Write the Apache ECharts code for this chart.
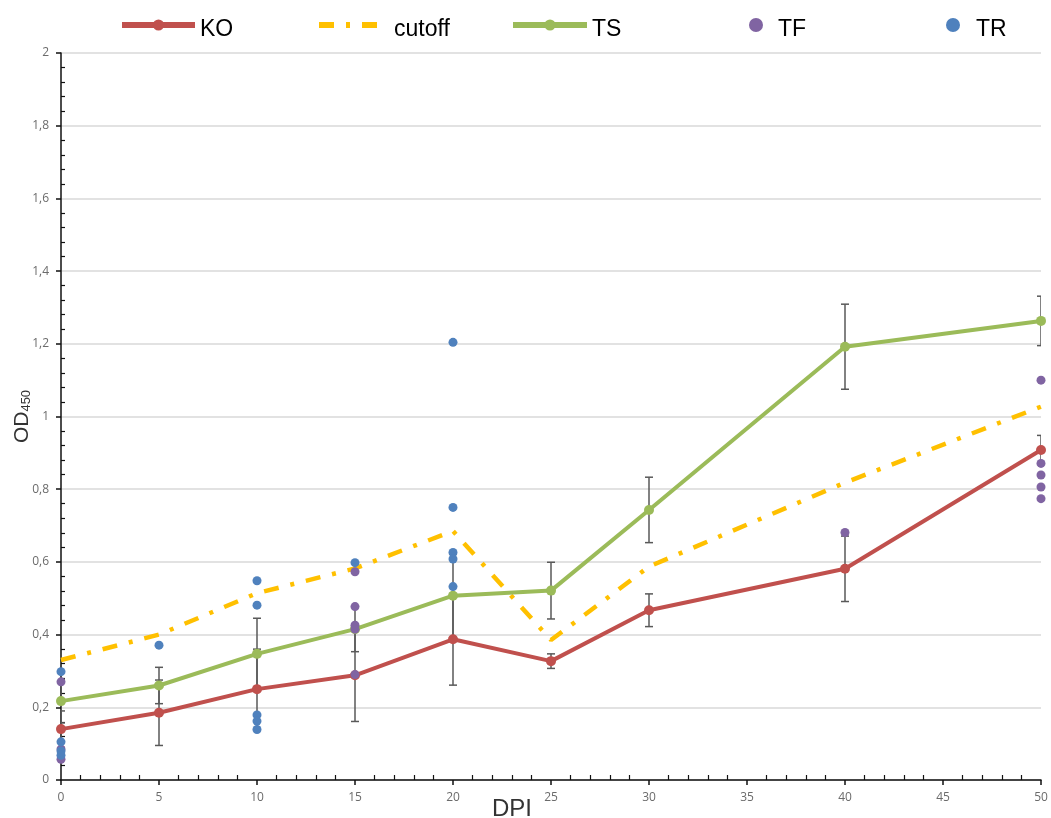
<!DOCTYPE html>
<html>
<head>
<meta charset="utf-8">
<script src="https://cdn.jsdelivr.net/npm/echarts@6/dist/echarts.min.js"></script>
<style>
  html, body { margin: 0; padding: 0; background: #ffffff; }
  #chart { width: 1051px; height: 818px; }
</style>
</head>
<body>
<div id="chart"></div>
<script>
// Days post infection (x positions of the group means)
const dpi = [0, 5, 10, 15, 20, 25, 30, 40, 50];

// Group means and their error half-widths (OD450)
const koMean = [0.140, 0.185, 0.250, 0.288, 0.387, 0.327, 0.467, 0.581, 0.908];
const koErr  = [0.050, 0.090, 0.110, 0.127, 0.126, 0.020, 0.045, 0.090, 0.040];
const tsMean = [0.217, 0.260, 0.347, 0.415, 0.507, 0.521, 0.743, 1.192, 1.263];
const tsErr  = [0.060, 0.050, 0.098, 0.062, 0.115, 0.078, 0.090, 0.117, 0.068];
const cutoff = [0.330, 0.400, 0.514, 0.582, 0.685, 0.385, 0.587, 0.818, 1.027];

// Individual animals: [dpi, OD450]
const tfPoints = [
  [0, 0.270], [0, 0.085], [0, 0.057],
  [15, 0.573], [15, 0.477], [15, 0.426], [15, 0.415], [15, 0.290],
  [40, 0.681],
  [50, 1.100], [50, 0.871], [50, 0.839], [50, 0.806], [50, 0.774]
];
const trPoints = [
  [0, 0.298], [0, 0.105], [0, 0.080], [0, 0.068],
  [5, 0.371],
  [10, 0.548], [10, 0.481], [10, 0.179], [10, 0.162], [10, 0.139],
  [15, 0.598],
  [20, 1.204], [20, 0.750], [20, 0.626], [20, 0.608], [20, 0.532]
];

// Axis extents and tick steps
const xRange = [0, 50], xStep = 5;
const yRange = [0, 2], yStep = 0.2;

const colors = { ko: '#C0504D', cutoff: '#FFC000', ts: '#9BBB59', tf: '#8064A2', tr: '#4F81BD' };

const chart = echarts.init(document.getElementById('chart'));

function meanRows(means, errs) {
  return dpi.map((d, i) => [d, means[i], errs[i]]);
}

// Vertical error bar with caps, placed through the axis scales
function renderErrorBar(params, api) {
  const x = api.value(0), m = api.value(1), e = api.value(2);
  const hi = api.coord([x, m + e]);
  const lo = api.coord([x, m - e]);
  const half = 4;
  const style = { stroke: '#595959', lineWidth: 1.5 };
  return {
    type: 'group',
    children: [
      { type: 'line', shape: { x1: hi[0], y1: hi[1], x2: lo[0], y2: lo[1] }, style },
      { type: 'line', shape: { x1: hi[0] - half, y1: hi[1], x2: hi[0] + half, y2: hi[1] }, style },
      { type: 'line', shape: { x1: lo[0] - half, y1: lo[1], x2: lo[0] + half, y2: lo[1] }, style }
    ]
  };
}

const legendText = {
  color: '#000000',
  rich: { t: { fontFamily: 'Liberation Sans, Arial, sans-serif', fontSize: 23, color: '#000000', padding: [9, 0, 0, 0] } }
};
function legendAt(item, left, width) {
  return {
    data: [item], left: left, top: 13, itemWidth: width, itemHeight: 14,
    lineStyle: { width: 6 },
    formatter: name => '{t|' + name + '}',
    textStyle: legendText, selectedMode: false
  };
}

const tickLabel = { fontFamily: 'Open Sans, DejaVu Sans, sans-serif', fontSize: 12, color: '#6b6b6b' };

const option = {
  animation: false,
  backgroundColor: '#ffffff',
  grid: { left: 61, right: 10, top: 53, bottom: 38, containLabel: false, outerBoundsMode: 'none' },
  legend: [
    legendAt('KO', 114, 73),
    legendAt({ name: 'cutoff', itemStyle: { opacity: 0 } }, 311, 70),
    legendAt('TS', 505, 74),
    legendAt('TF', 744, 34),
    legendAt('TR', 941, 36)
  ],
  xAxis: {
    type: 'value', min: xRange[0], max: xRange[1], interval: xStep,
    name: 'DPI', nameLocation: 'middle', nameGap: 17, nameMoveOverlap: false,
    nameTextStyle: { fontFamily: 'Liberation Sans, Arial, sans-serif', fontSize: 24, color: '#333333', padding: [0, 78, 0, 0] },
    axisLine: { show: true, onZero: false, lineStyle: { color: '#111111', width: 1.5 } },
    axisTick: { show: true, inside: false, length: 5, lineStyle: { color: '#111111', width: 1.5 } },
    minorTick: { show: true, splitNumber: 5, length: -5, lineStyle: { color: '#111111', width: 1.2 } },
    axisLabel: Object.assign({ margin: 12 }, tickLabel),
    splitLine: { show: false }
  },
  yAxis: {
    type: 'value', min: yRange[0], max: yRange[1], interval: yStep,
    name: '{a|OD}{b|450}', nameLocation: 'middle', nameGap: 28, nameRotate: 90, nameMoveOverlap: false,
    nameTextStyle: {
      rich: {
        a: { fontFamily: 'Liberation Sans, Arial, sans-serif', fontSize: 21, color: '#333333' },
        b: { fontFamily: 'Liberation Sans, Arial, sans-serif', fontSize: 13, color: '#333333', verticalAlign: 'bottom', padding: [6, 0, 0, 0] }
      }
    },
    axisLine: { show: true, lineStyle: { color: '#111111', width: 1.5 } },
    axisTick: { show: true, inside: false, length: 5, lineStyle: { color: '#111111', width: 1.5 } },
    minorTick: { show: true, splitNumber: 5, length: -4, lineStyle: { color: '#111111', width: 1.2 } },
    axisLabel: Object.assign({ margin: 12, formatter: v => String(+v.toFixed(1)).replace('.', ',') }, tickLabel),
    splitLine: { show: true, lineStyle: { color: '#d9d9d9', width: 1.5 } }
  },
  series: [
    {
      name: 'KO error', type: 'custom', renderItem: renderErrorBar, clip: true,
      data: meanRows(koMean, koErr), encode: { x: 0, y: 1 }, z: 2
    },
    {
      name: 'KO', type: 'line', data: dpi.map((d, i) => [d, koMean[i]]),
      symbol: 'circle', symbolSize: 10, color: colors.ko,
      lineStyle: { width: 4, color: colors.ko }, itemStyle: { color: colors.ko }, z: 3
    },
    {
      name: 'cutoff', type: 'line', data: dpi.map((d, i) => [d, cutoff[i]]),
      symbol: 'none', color: colors.cutoff,
      lineStyle: { width: 4.5, color: colors.cutoff, type: [15, 12, 4, 12], cap: 'butt' }, z: 3
    },
    {
      name: 'TS error', type: 'custom', renderItem: renderErrorBar, clip: true,
      data: meanRows(tsMean, tsErr), encode: { x: 0, y: 1 }, z: 3
    },
    {
      name: 'TS', type: 'line', data: dpi.map((d, i) => [d, tsMean[i]]),
      symbol: 'circle', symbolSize: 10, color: colors.ts,
      lineStyle: { width: 4, color: colors.ts }, itemStyle: { color: colors.ts }, z: 4
    },
    {
      name: 'TF', type: 'scatter', data: tfPoints, symbol: 'circle', symbolSize: 9,
      itemStyle: { color: colors.tf, opacity: 1 }, z: 5
    },
    {
      name: 'TR', type: 'scatter', data: trPoints, symbol: 'circle', symbolSize: 9,
      itemStyle: { color: colors.tr, opacity: 1 }, z: 6
    }
  ],
  graphic: [
    { type: 'rect', left: 100, top: 37, shape: { width: 951, height: 14 }, style: { fill: '#ffffff' }, z: 100 }
  ]
};

chart.setOption(option);
</script>
</body>
</html>
